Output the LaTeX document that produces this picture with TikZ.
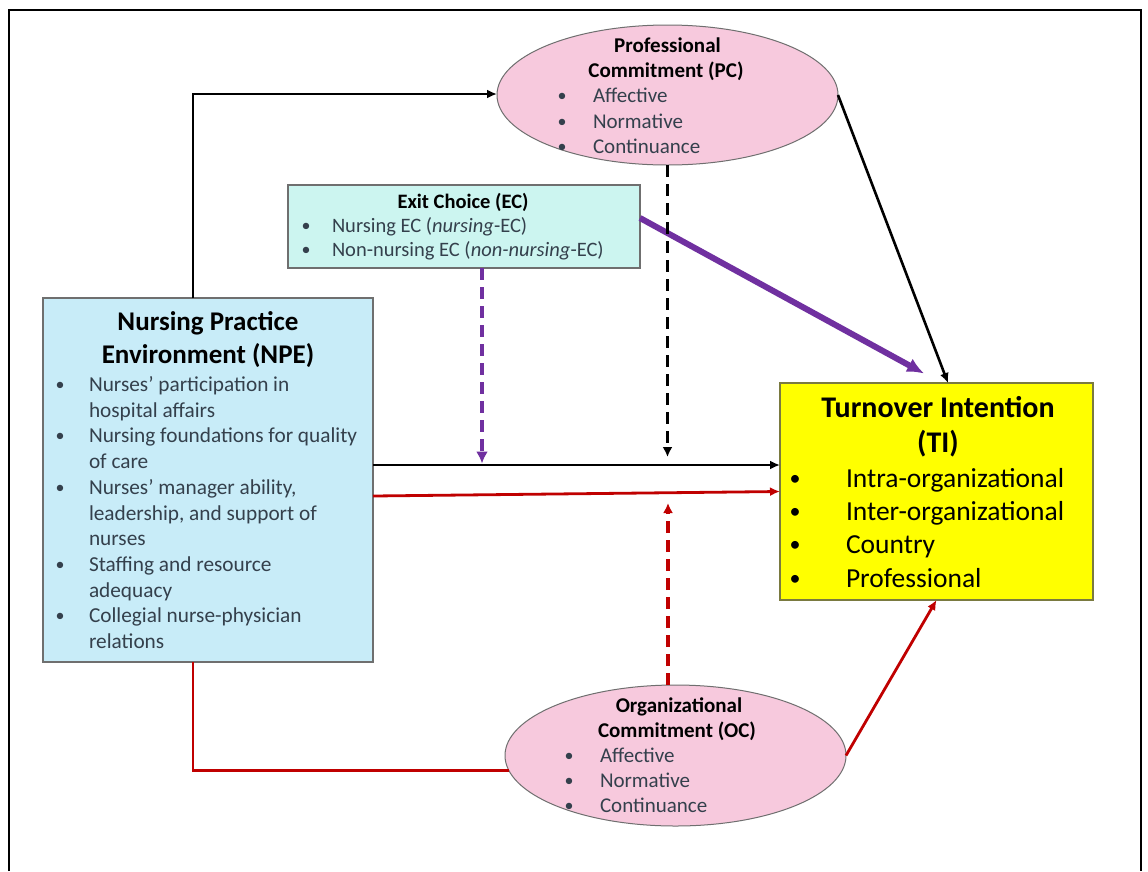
\documentclass[tikz,border=0pt]{standalone}
\usepackage{fontspec}
\setmainfont{Carlito}
\usetikzlibrary{shapes.geometric,arrows.meta,calc}

\definecolor{pinkfill}{HTML}{F7C9DD}
\definecolor{ecfill}{HTML}{CCF5F0}
\definecolor{npefill}{HTML}{C8ECF8}
\definecolor{tifill}{HTML}{FFFF00}
\definecolor{edgegray}{HTML}{6F6F6F}
\definecolor{tiedge}{HTML}{7A7A40}
\definecolor{purp}{HTML}{7030A0}
\definecolor{darkred}{HTML}{C00000}
\definecolor{itemtext}{HTML}{34404C}

% font sizes
\newcommand{\fntPC}{\fontsize{21}{25}\selectfont}
\newcommand{\fntEC}{\fontsize{20.5}{24}\selectfont}
\newcommand{\fntNPEtitle}{\fontsize{27}{32}\selectfont\bfseries}
\newcommand{\fntNPE}{\fontsize{21.3}{25}\selectfont}
\newcommand{\fntTItitle}{\fontsize{30}{35}\selectfont\bfseries}
\newcommand{\fntTI}{\fontsize{27.5}{33}\selectfont}
\newcommand{\fntBul}{\fontsize{18}{20}\selectfont}

\tikzset{
  ovalbox/.style={ellipse, draw=edgegray, line width=1pt, fill=pinkfill,
    inner sep=0pt, outer sep=0pt},
  rectbox/.style={rectangle, draw=edgegray, line width=1.2pt,
    inner sep=0pt, outer sep=0pt},
  itm/.style={inner sep=0pt, outer sep=0pt, anchor=base west, text=itemtext},
  ctr/.style={inner sep=0pt, outer sep=0pt, anchor=base},
  bul/.style={inner sep=0pt, outer sep=0pt, anchor=base, font=\fntBul,
    yshift=1pt},
  blk/.style={draw=black, line width=2.6pt, -{Latex[length=10pt,width=9pt]}},
  redln/.style={draw=darkred, line width=2.8pt, -{Latex[length=10pt,width=9pt]}},
  redplain/.style={draw=darkred, line width=2.8pt},
  purpthick/.style={draw=purp, line width=6pt, -{Latex[length=17pt,width=15pt]}},
  dashblk/.style={draw=black, line width=3.2pt, dash pattern=on 12pt off 7pt,
    -{Latex[length=10pt,width=10pt]}},
  dashpurp/.style={draw=purp, line width=3.2pt, dash pattern=on 12pt off 7pt,
    -{Latex[length=12pt,width=12pt]}},
  dashred/.style={draw=darkred, line width=3.2pt, dash pattern=on 12pt off 7pt,
    -{Latex[length=10pt,width=10pt]}},
}

\begin{document}
\begin{tikzpicture}[x=1pt,y=-1pt]
\useasboundingbox (0,0) rectangle (1148,871);
\fill[white] (0,0) rectangle (1148,871);

% page frame (open at the bottom)
\draw[line width=1.6pt] (9,871) -- (9,10) -- (1141,10) -- (1141,871);

% ---------- boxes ----------
\node[ovalbox, minimum width=341pt, minimum height=140pt] (pc) at (667.5,95) {};
\node[ovalbox, minimum width=341pt, minimum height=141pt] (oc) at (675.5,755.5) {};
\node[rectbox, fill=ecfill, minimum width=352pt, minimum height=83pt] (ec) at (464,226.5) {};
\node[rectbox, fill=npefill, minimum width=330pt, minimum height=364pt] (npe) at (208,480) {};
\node[rectbox, draw=tiedge, fill=tifill, minimum width=313pt, minimum height=217pt] (ti) at (936.5,491.5) {};

% ---------- Professional Commitment ----------
\node[ctr, font=\fntPC\bfseries] (pct1) at (667.5,52) {Professional};
\node[ctr, font=\fntPC\bfseries] (pct2) at (666,77) {Commitment (PC)};
\foreach \lbl [count=\i from 0] in {Affective, Normative, Continuance}{
  \node[bul, text=itemtext] (pcb\i) at (562,{102.8+25.3*\i}) {\textbullet};
  \node[itm, font=\fntPC] (pcl\i) at (593,{102.8+25.3*\i}) {\lbl};
}

% ---------- Exit Choice ----------
\node[ctr, font=\fntEC\bfseries] (ect) at (463,208.5) {Exit Choice (EC)};
\node[bul, text=itemtext] (ecb0) at (306,232.5) {\textbullet};
\node[itm, font=\fntEC] (ecl0) at (332,232.5) {Nursing EC (\textit{nursing}-EC)};
\node[bul, text=itemtext] (ecb1) at (306,256.5) {\textbullet};
\node[itm, font=\fntEC] (ecl1) at (332,256.5) {Non-nursing EC (\textit{non-nursing}-EC)};

% ---------- Nursing Practice Environment ----------
\node[ctr, font=\fntNPEtitle] (npet1) at (208,330.5) {Nursing Practice};
\node[ctr, font=\fntNPEtitle] (npet2) at (208,363) {Environment (NPE)};
\foreach \lbl [count=\i from 0] in {Nurses’ participation in, hospital affairs,
    Nursing foundations for quality, of care, {Nurses’ manager ability,},
    {leadership, and support of}, nurses, Staffing and resource, adequacy,
    Collegial nurse-physician, relations}{
  \node[itm, font=\fntNPE] (npel\i) at (89,{391.5+25.7*\i}) {\lbl};
}
\foreach \k in {0,2,4,7,9}{
  \node[bul, text=itemtext] (npeb\k) at (60,{391.5+25.7*\k}) {\textbullet};
}

% ---------- Turnover Intention ----------
\node[ctr, font=\fntTItitle] (tit1) at (938,417) {Turnover Intention};
\node[ctr, font=\fntTItitle] (tit2) at (938,452) {(TI)};
\foreach \lbl [count=\i from 0] in {Intra-organizational, Inter-organizational, Country, Professional}{
  \node[bul, font=\fontsize{22}{24}\selectfont, yshift=1pt] (tib\i) at (795,{487+33.4*\i}) {\textbullet};
  \node[itm, font=\fntTI, text=black] (til\i) at (846,{487+33.4*\i}) {\lbl};
}

% ---------- organizational commitment text ----------
\node[ctr, font=\fntPC\bfseries] (oct1) at (679,712) {Organizational};
\node[ctr, font=\fntPC\bfseries] (oct2) at (677,737) {Commitment (OC)};
\foreach \lbl [count=\i from 0] in {Affective, Normative, Continuance}{
  \node[bul, text=itemtext] (ocb\i) at (569,{762+25*\i}) {\textbullet};
  \node[itm, font=\fntPC] (ocl\i) at (600,{762+25*\i}) {\lbl};
}

% ---------- connectors ----------
\coordinate (bline) at ([yshift=15pt]npe.east);
\coordinate (rline) at ([yshift=-16pt]npe.east);

% NPE -> PC
\draw[blk] ([xshift=-15pt]npe.north) |- ([yshift=1pt]pc.west);
% PC -> TI
\draw[blk] (pc.east) -- ([xshift=11.5pt]ti.north);
% EC -> TI
\draw[purpthick, shorten >=1pt] ([yshift=8.5pt]ec.east) -- ([xshift=-11.5pt,yshift=9pt]ti.north);
% NPE -> TI (black and red)
\draw[blk] (bline) -- (bline -| ti.west);
\draw[redln] (rline) -- (ti.west);
% moderating paths
\draw[dashpurp] ([xshift=18pt]ec.south) -- ([xshift=18pt,yshift=1.5pt]ec.south |- bline);
\draw[dashblk] (pc.south) -- ([yshift=8pt]pc.south |- bline);
\draw[dashred] ([xshift=-7.5pt]oc.north) -- ([xshift=-7.5pt,yshift=-7pt]oc.north |- rline);
% NPE -> OC -> TI
\draw[redplain] ([xshift=-15pt]npe.south) |- (oc.185);
\draw[redln] (oc.east) -- (ti.south);
\end{tikzpicture}
\end{document}
